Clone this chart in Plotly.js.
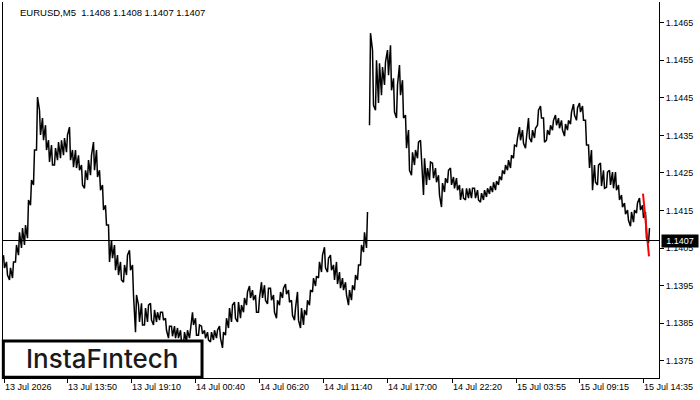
<!DOCTYPE html>
<html>
<head>
<meta charset="utf-8">
<script src="https://cdn.plot.ly/plotly-3.0.1.min.js"></script>
<style>html,body{margin:0;padding:0;background:#fff;}#chart{width:700px;height:400px;}</style>
</head>
<body>
<div id="chart"></div>
<script>
// EURUSD M5 — sampled every 3 bars (high / low of each 3-bar block)
const high = [
1.14031,1.14013,1.13997,1.14013,1.14058,1.14092,1.14103,1.14111,1.14178,1.14231,
1.14311,1.14452,1.14417,1.14396,1.14377,1.14337,1.14324,1.14316,1.14332,1.14337,
1.14343,1.14351,1.14372,1.14311,1.14311,1.14297,1.14271,1.14257,1.14284,1.14297,
1.14332,1.14311,1.14257,1.14218,1.14164,1.14111,1.14071,1.14058,1.14031,1.14013,
1.14005,1.14031,1.14044,1.14005,1.13925,1.13898,1.13903,1.13890,1.13898,1.13903,
1.13885,1.13879,1.13879,1.13879,1.13863,1.13842,1.13842,1.13842,1.13837,1.13831,
1.13826,1.13831,1.13837,1.13879,1.13863,1.13845,1.13842,1.13831,1.13826,1.13826,
1.13831,1.13831,1.13842,1.13826,1.13863,1.13890,1.13898,1.13906,1.13906,1.13898,
1.13917,1.13933,1.13949,1.13938,1.13925,1.13917,1.13959,1.13951,1.13943,1.13943,
1.13925,1.13911,1.13933,1.13943,1.13954,1.13938,1.13911,1.13890,1.13933,1.13890,
1.13885,1.13911,1.13938,1.13970,1.13975,1.14013,1.14031,1.14052,1.14023,1.14031,
1.14005,1.14013,1.13986,1.13970,1.13959,1.13938,1.13951,1.13978,1.14005,1.14058,
1.14092,1.14146,1.14622,1.14577,1.14550,1.14542,1.14532,1.14545,1.14577,1.14590,
1.14502,1.14484,1.14537,1.14497,1.14404,1.14364,1.14305,1.14311,1.14332,1.14337,
1.14289,1.14263,1.14279,1.14276,1.14263,1.14244,1.14223,1.14236,1.14257,1.14263,
1.14239,1.14236,1.14218,1.14209,1.14209,1.14209,1.14209,1.14209,1.14204,1.14196,
1.14204,1.14209,1.14215,1.14225,1.14228,1.14241,1.14257,1.14271,1.14284,1.14297,
1.14324,1.14343,1.14372,1.14364,1.14345,1.14396,1.14364,1.14369,1.14417,1.14428,
1.14396,1.14364,1.14377,1.14390,1.14404,1.14396,1.14390,1.14380,1.14390,1.14412,
1.14433,1.14423,1.14436,1.14428,1.14390,1.14324,1.14311,1.14271,1.14271,1.14276,
1.14257,1.14252,1.14257,1.14252,1.14252,1.14218,1.14191,1.14170,1.14151,1.14146,
1.14151,1.14170,1.14183,1.14164,1.14146,1.14103
];
const low = [
1.13997,1.13978,1.13965,1.13970,1.14013,1.14031,1.14050,1.14058,1.14076,1.14164,
1.14218,1.14311,1.14351,1.14337,1.14311,1.14279,1.14271,1.14271,1.14284,1.14289,
1.14297,1.14305,1.14284,1.14265,1.14263,1.14257,1.14218,1.14209,1.14231,1.14244,
1.14257,1.14239,1.14204,1.14151,1.14111,1.14013,1.14023,1.13991,1.13978,1.13965,
1.13959,1.13978,1.13991,1.13925,1.13826,1.13853,1.13845,1.13845,1.13853,1.13858,
1.13845,1.13853,1.13858,1.13858,1.13831,1.13810,1.13815,1.13810,1.13810,1.13800,
1.13791,1.13800,1.13810,1.13845,1.13818,1.13818,1.13821,1.13810,1.13805,1.13800,
1.13805,1.13810,1.13810,1.13784,1.13818,1.13837,1.13853,1.13863,1.13853,1.13863,
1.13879,1.13898,1.13917,1.13911,1.13879,1.13879,1.13917,1.13911,1.13901,1.13911,
1.13879,1.13863,1.13898,1.13917,1.13927,1.13906,1.13871,1.13858,1.13858,1.13837,
1.13845,1.13871,1.13898,1.13933,1.13949,1.13970,1.13986,1.13997,1.13986,1.13991,
1.13965,1.13954,1.13943,1.13938,1.13925,1.13898,1.13911,1.13938,1.13965,1.14005,
1.14039,1.14050,1.14377,1.14430,1.14417,1.14436,1.14457,1.14484,1.14510,1.14470,
1.14412,1.14396,1.14457,1.14396,1.14316,1.14257,1.14244,1.14271,1.14289,1.14289,
1.14191,1.14218,1.14231,1.14236,1.14225,1.14191,1.14159,1.14199,1.14223,1.14218,
1.14209,1.14204,1.14178,1.14183,1.14178,1.14183,1.14183,1.14183,1.14178,1.14172,
1.14178,1.14186,1.14194,1.14199,1.14204,1.14218,1.14231,1.14247,1.14257,1.14263,
1.14289,1.14321,1.14337,1.14329,1.14316,1.14343,1.14332,1.14343,1.14377,1.14396,
1.14332,1.14337,1.14351,1.14364,1.14377,1.14369,1.14364,1.14348,1.14364,1.14380,
1.14404,1.14390,1.14412,1.14390,1.14324,1.14263,1.14204,1.14225,1.14218,1.14215,
1.14209,1.14212,1.14218,1.14209,1.14204,1.14178,1.14159,1.14140,1.14124,1.14108,
1.14119,1.14143,1.14151,1.14130,1.14076,1.14063
];
const barsPerSample = 3;
const lastPrice = 1.1407;
const titleText = "EURUSD,M5\u00a0\u00a01.1408 1.1408 1.1407 1.1407";

// pattern line (red)
const patternBars = [639, 645];
const patternPrices = [1.14195, 1.14028];

// axis ticks
const xTickBars = [0, 63, 127, 191, 255, 319, 383, 448, 512, 575, 639];
const xTickLabels = ["13 Jul 2026","13 Jul 13:50","13 Jul 19:10","14 Jul 00:40","14 Jul 06:20","14 Jul 11:40","14 Jul 17:00","14 Jul 22:20","15 Jul 03:55","15 Jul 09:15","15 Jul 14:35"];
const yTickVals = [1.1375,1.1385,1.1395,1.1405,1.1415,1.1425,1.1435,1.1445,1.1455,1.1465];
const yTickLabels = ["1.1375","1.1385","1.1395","1.1405","1.1415","1.1425","1.1435","1.1445","1.1455","1.1465"];

// build the bar path (vertical high-low segments joined in sequence)
const px = [], py = [];
for (let i = 0; i < high.length; i++) {
  const b = i * barsPerSample;
  const mid = (high[i] + low[i]) / 2;
  const nMid = i < high.length - 1 ? (high[i+1] + low[i+1]) / 2 : mid;
  const up = nMid >= mid;
  px.push(b - 0.5, b + 0.5);
  py.push(up ? low[i] : high[i], up ? high[i] : low[i]);
  if (i < high.length - 1 && (low[i+1] - high[i] > 0.0015 || low[i] - high[i+1] > 0.0015)) {
    px.push(null); py.push(null);
  }
}

const FONT = "Liberation Sans, Arial, sans-serif";
const traces = [
  {type:'scatter', mode:'lines', x:px, y:py, line:{color:'#000', width:1.5}, hoverinfo:'skip', connectgaps:false},
  {type:'scatter', mode:'lines', x:patternBars, y:patternPrices, line:{color:'#ff0000', width:2}, hoverinfo:'skip'}
];

const layout = {
  width:700, height:400,
  margin:{l:3, r:41, t:2, b:22},
  paper_bgcolor:'#fff', plot_bgcolor:'#fff',
  showlegend:false,
  font:{family:FONT, size:9, color:'#000'},
  xaxis:{
    range:[-1, 655], showgrid:false, zeroline:false,
    showline:true, linecolor:'#000', linewidth:1, mirror:false,
    ticks:'outside', ticklen:4, tickcolor:'#000', tickwidth:1,
    tickmode:'array', tickvals:xTickBars, ticktext:xTickLabels,
    ticklabelposition:'outside right',
    tickfont:{family:FONT, size:9, color:'#000'}
  },
  yaxis:{
    side:'right', range:[1.137039, 1.147051], showgrid:false, zeroline:false,
    showline:true, linecolor:'#000', linewidth:1, mirror:true,
    ticks:'outside', ticklen:4, tickcolor:'#000', tickwidth:1,
    tickmode:'array', tickvals:yTickVals, ticktext:yTickLabels,
    tickfont:{family:FONT, size:9, color:'#000'}
  },
  shapes:[
    {type:'line', xref:'paper', yref:'y', x0:0, x1:1, y0:lastPrice, y1:lastPrice, line:{color:'#000', width:1}},
    {type:'rect', xref:'paper', yref:'paper', x0:0.0005, x1:0.3034, y0:0.002, y1:0.0984, line:{color:'#000', width:3}, fillcolor:'#fff', layer:'above'}
  ],
  annotations:[
    {xref:'paper', yref:'paper', x:0.0229, y:0.973, xanchor:'left', yanchor:'middle', showarrow:false,
     text:titleText, font:{family:FONT, size:9.5, color:'#000'}},
    {xref:'paper', yref:'y', x:1.003, y:lastPrice, xanchor:'left', yanchor:'middle', showarrow:false,
     text:lastPrice.toFixed(4), bgcolor:'#000', borderpad:1, width:34, height:10,
     font:{family:FONT, size:9, color:'#fff'}},
    {xref:'paper', yref:'paper', x:0.1517, y:0.052, xanchor:'center', yanchor:'middle', showarrow:false,
     text:'InstaF\u0131ntech', font:{family:'Inter, Lato, sans-serif', size:26, color:'#1a1a1a', weight:500}}
  ]
};

Plotly.newPlot('chart', traces, layout, {displayModeBar:false, staticPlot:true});
</script>
</body>
</html>
